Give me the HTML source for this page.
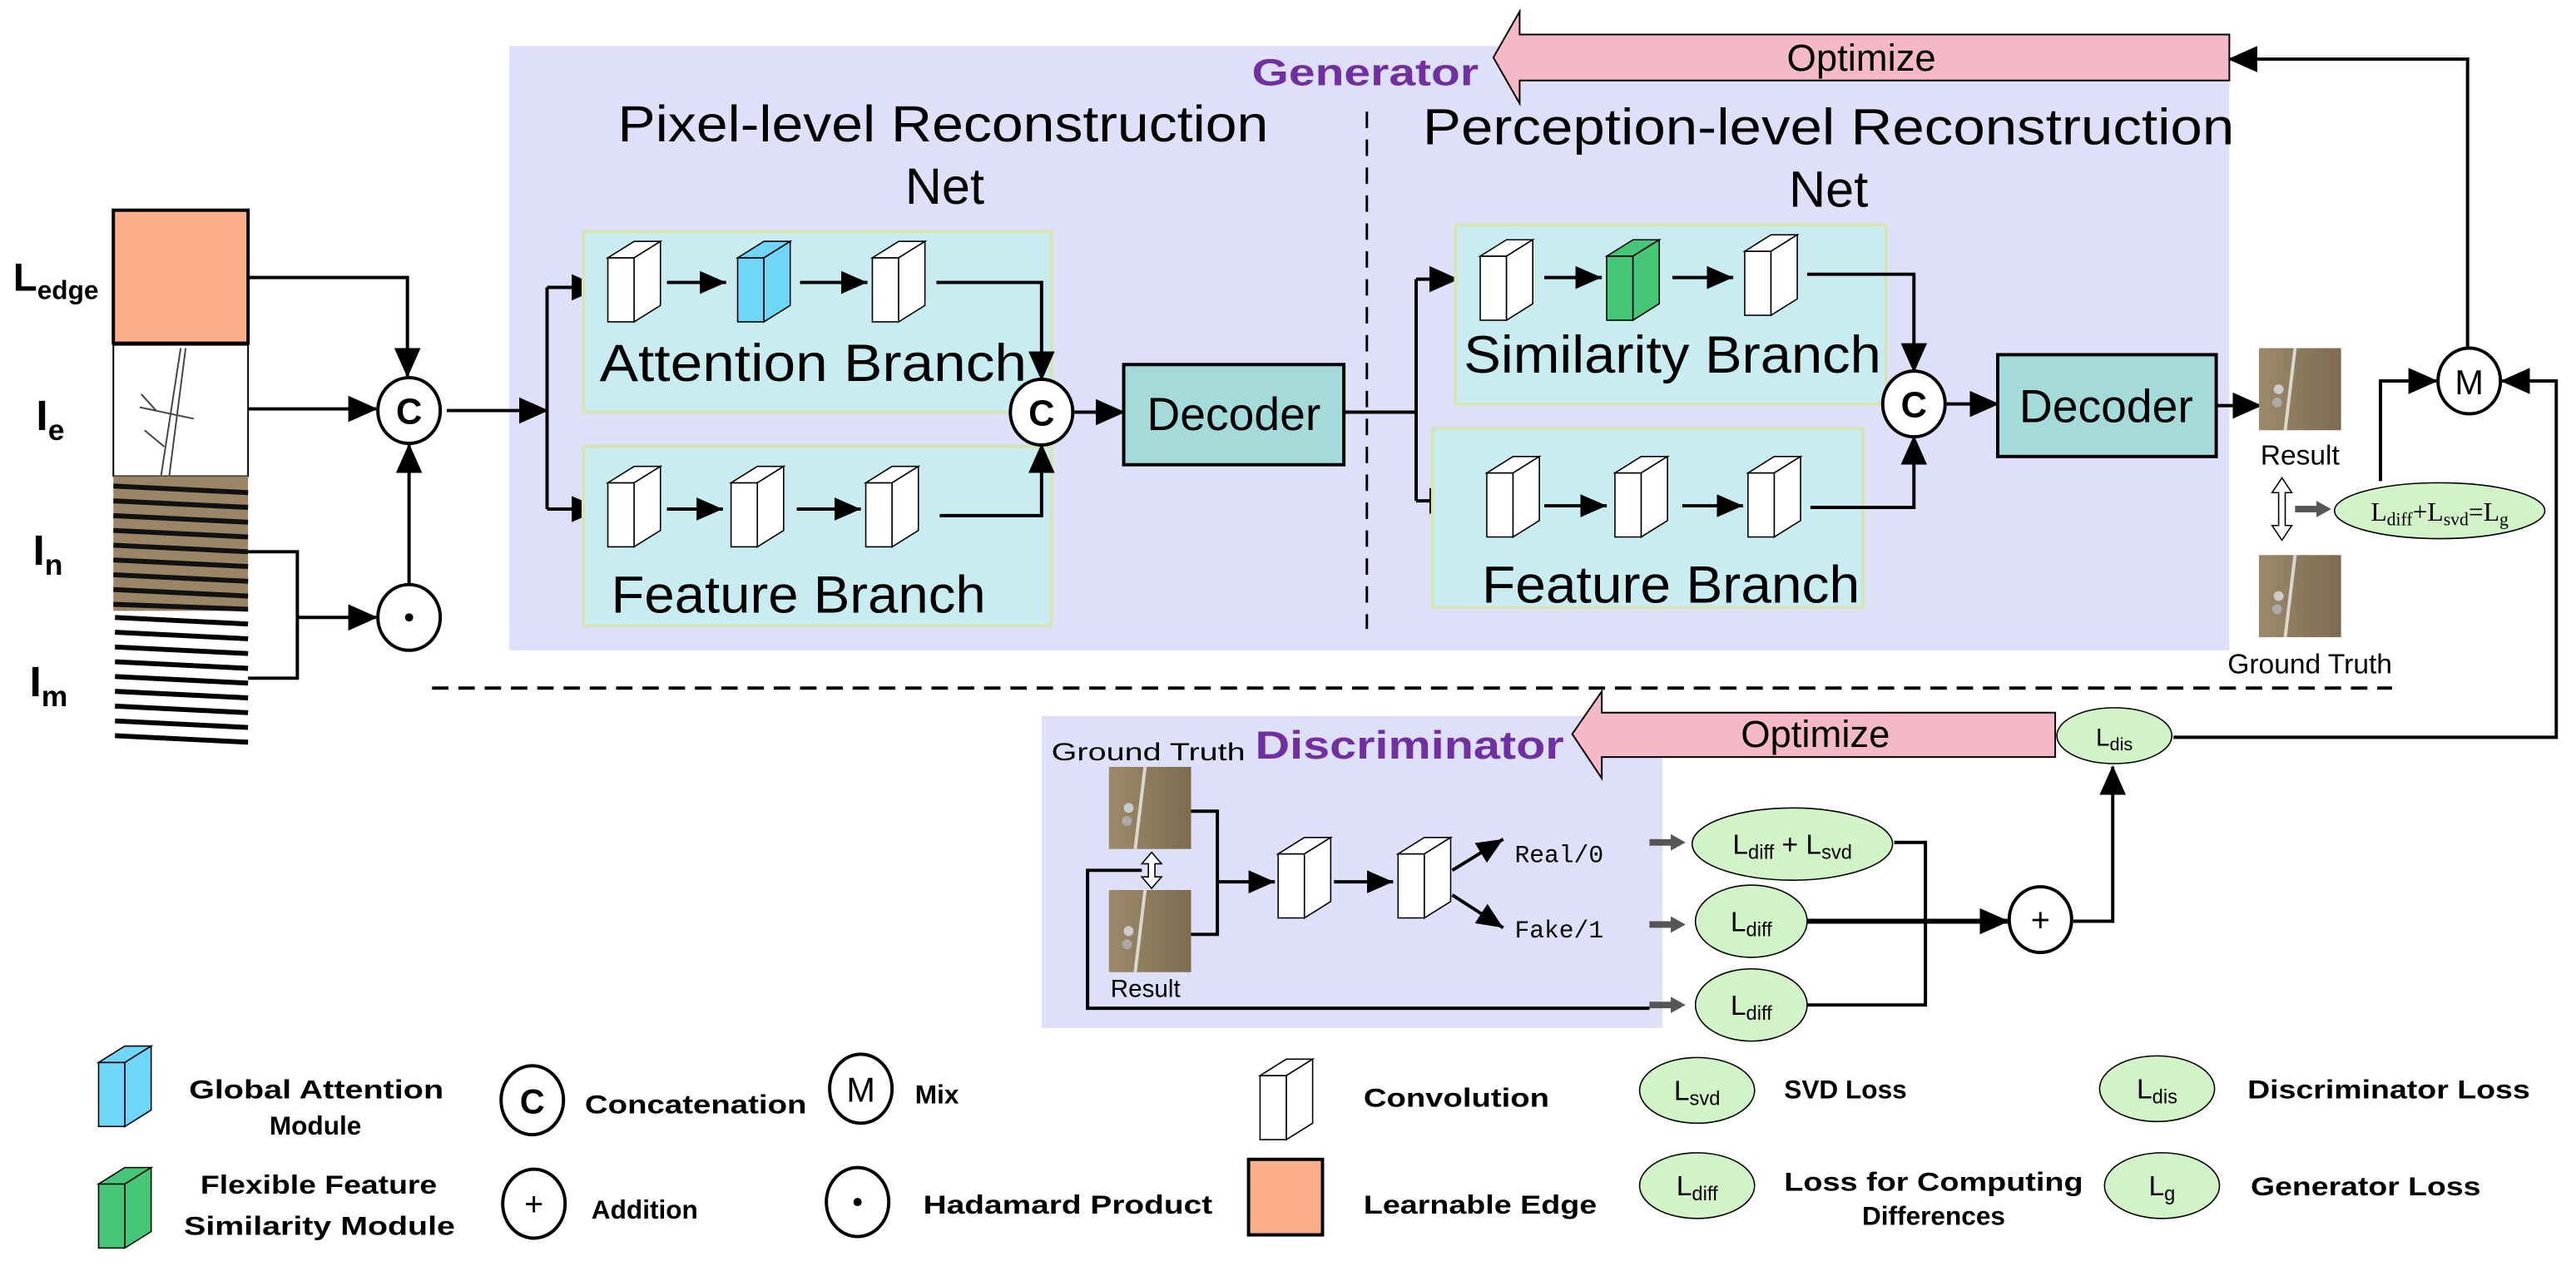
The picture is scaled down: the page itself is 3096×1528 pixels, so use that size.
<!DOCTYPE html>
<html><head><meta charset="utf-8"><style>
html,body{margin:0;padding:0;background:#fff;}
svg{display:block;}
text{font-family:"Liberation Sans",sans-serif;}
</style></head><body>
<svg width="3096" height="1528" viewBox="0 0 1568 774" preserveAspectRatio="none" xmlns="http://www.w3.org/2000/svg">
<defs>
<marker id="ah" markerUnits="userSpaceOnUse" markerWidth="20" markerHeight="20" refX="17" refY="9" orient="auto"><path d="M0,1 L18,9 L0,17 z" fill="#000"/></marker>
<marker id="ahs" markerUnits="userSpaceOnUse" markerWidth="18" markerHeight="18" refX="16" refY="8" orient="auto"><path d="M0,1 L16,8 L0,15 z" fill="#000"/></marker>
<g id="cube"><rect x="0" y="10" width="16" height="39" fill="#fff" stroke="#000" stroke-width="0.8"/><polygon points="0,10 16,10 32,0 16,0" fill="#fff" stroke="#000" stroke-width="0.8"/><polygon points="16,10 32,0 32,39 16,49" fill="#fff" stroke="#000" stroke-width="0.8"/></g>
<g id="cubeB"><rect x="0" y="10" width="16" height="39" fill="#6fd6f8" stroke="#000" stroke-width="0.8"/><polygon points="0,10 16,10 32,0 16,0" fill="#6fd6f8" stroke="#000" stroke-width="0.8"/><polygon points="16,10 32,0 32,39 16,49" fill="#6fd6f8" stroke="#000" stroke-width="0.8"/></g>
<g id="cubeG"><rect x="0" y="10" width="16" height="39" fill="#45c777" stroke="#000" stroke-width="0.8"/><polygon points="0,10 16,10 32,0 16,0" fill="#45c777" stroke="#000" stroke-width="0.8"/><polygon points="16,10 32,0 32,39 16,49" fill="#45c777" stroke="#000" stroke-width="0.8"/></g>
<linearGradient id="sat" x1="0" x2="1"><stop offset="0" stop-color="#9c8a6a"/><stop offset="1" stop-color="#7d6a50"/></linearGradient>
<g id="img"><rect x="0" y="0" width="50" height="50" fill="url(#sat)"/><line x1="22" y1="0" x2="16" y2="50" stroke="#d8d8d0" stroke-width="2"/><circle cx="12" cy="25" r="3" fill="#ccc"/><circle cx="11" cy="33" r="3" fill="#aaa"/></g>
</defs>

<!-- Generator box -->
<rect x="310" y="28" width="1047" height="368" fill="#dedff8"/>
<line x1="832" y1="68" x2="832" y2="383" stroke="#000" stroke-width="1.5" stroke-dasharray="10,7"/>
<text x="376" y="86" font-size="31" textLength="396" lengthAdjust="spacingAndGlyphs">Pixel-level Reconstruction</text>
<text x="575" y="124" font-size="31" text-anchor="middle">Net</text>
<text x="866" y="88" font-size="31" textLength="494" lengthAdjust="spacingAndGlyphs">Perception-level Reconstruction</text>
<text x="1113" y="126" font-size="31" text-anchor="middle">Net</text>
<text x="762" y="52" font-size="23" font-weight="bold" fill="#7030a0" textLength="138" lengthAdjust="spacingAndGlyphs">Generator</text>

<!-- Optimize top arrow -->
<polygon points="925,21 1357,21 1357,49 925,49 925,63 909,35 925,7" fill="#f4b8c6" stroke="#000" stroke-width="1"/>
<text x="1133" y="43" font-size="23" text-anchor="middle">Optimize</text>

<!-- Left inputs -->
<text x="8" y="177" font-size="24" font-weight="bold">L<tspan font-size="16" dy="5">edge</tspan></text>
<text x="22" y="262" font-size="26" font-weight="bold">I<tspan font-size="18" dy="6">e</tspan></text>
<text x="20" y="344" font-size="26" font-weight="bold">I<tspan font-size="18" dy="6">n</tspan></text>
<text x="18" y="424" font-size="26" font-weight="bold">I<tspan font-size="18" dy="6">m</tspan></text>
<rect x="69" y="128" width="82" height="81" fill="#fbae8a" stroke="#000" stroke-width="2"/>
<rect x="69" y="210" width="82" height="80" fill="#fff" stroke="#000" stroke-width="1"/>
<path d="M110,212 L98,290 M113,212 L103,290 M85,248 L118,255 M88,262 L100,272 M86,240 L95,250" stroke="#444" stroke-width="1" fill="none"/>
<rect x="69" y="290" width="82" height="82" fill="#9a8566"/>
<g stroke="#111" stroke-width="3">
<line x1="69" y1="296" x2="151" y2="300"/><line x1="69" y1="305" x2="151" y2="309"/><line x1="69" y1="314" x2="151" y2="318"/><line x1="69" y1="323" x2="151" y2="327"/><line x1="69" y1="332" x2="151" y2="336"/><line x1="69" y1="341" x2="151" y2="345"/><line x1="69" y1="350" x2="151" y2="354"/><line x1="69" y1="359" x2="151" y2="363"/><line x1="69" y1="368" x2="151" y2="371"/>
</g>
<g stroke="#000" stroke-width="3">
<line x1="70" y1="376" x2="151" y2="380"/><line x1="70" y1="385" x2="151" y2="389"/><line x1="70" y1="394" x2="151" y2="398"/><line x1="70" y1="403" x2="151" y2="407"/><line x1="70" y1="412" x2="151" y2="416"/><line x1="70" y1="421" x2="151" y2="425"/><line x1="70" y1="430" x2="151" y2="434"/><line x1="70" y1="439" x2="151" y2="443"/><line x1="70" y1="448" x2="151" y2="452"/>
</g>

<g stroke="#000" stroke-width="2" fill="none">
<polyline points="151,169 248,169 248,229" marker-end="url(#ah)"/>
<line x1="151" y1="249" x2="229" y2="249" marker-end="url(#ah)"/>
<polyline points="151,336 181,336 181,413 151,413"/>
<line x1="181" y1="376" x2="229" y2="376" marker-end="url(#ah)"/>
<line x1="249" y1="356" x2="249" y2="271" marker-end="url(#ah)"/>
<line x1="272" y1="250" x2="333" y2="250" marker-end="url(#ah)"/>
<polyline points="333,175 333,310"/>
<line x1="333" y1="175" x2="365" y2="175" marker-end="url(#ah)"/>
<line x1="333" y1="310" x2="365" y2="310" marker-end="url(#ah)"/>
</g>
<ellipse cx="249" cy="250" rx="19" ry="20" fill="#fff" stroke="#000" stroke-width="2"/>
<text x="249" y="258" font-size="22" font-weight="bold" text-anchor="middle">C</text>
<ellipse cx="249" cy="376" rx="19" ry="20" fill="#fff" stroke="#000" stroke-width="2"/>
<circle cx="249" cy="376" r="2.5" fill="#000"/>

<!-- Pixel branches -->
<rect x="355" y="141" width="285" height="110" fill="#c8ecf0" stroke="#d6e4b8" stroke-width="2"/>
<rect x="355" y="272" width="285" height="109" fill="#c8ecf0" stroke="#d6e4b8" stroke-width="2"/>
<use href="#cube" x="370" y="147"/><use href="#cubeB" x="449" y="147"/><use href="#cube" x="531" y="147"/>
<use href="#cube" x="370" y="284"/><use href="#cube" x="445" y="284"/><use href="#cube" x="527" y="284"/>
<g stroke="#000" stroke-width="2" fill="none">
<line x1="406" y1="172" x2="442" y2="172" marker-end="url(#ahs)"/>
<line x1="487" y1="172" x2="528" y2="172" marker-end="url(#ahs)"/>
<line x1="406" y1="310" x2="440" y2="310" marker-end="url(#ahs)"/>
<line x1="485" y1="310" x2="524" y2="310" marker-end="url(#ahs)"/>
<polyline points="570,172 634,172 634,231" marker-end="url(#ah)"/>
<polyline points="572,314 634,314 634,271" marker-end="url(#ah)"/>
<line x1="654" y1="251" x2="684" y2="251" marker-end="url(#ah)"/>
<polyline points="818,251 862,251"/>
<polyline points="862,170 862,305"/>
<line x1="862" y1="170" x2="887" y2="170" marker-end="url(#ah)"/>
<line x1="862" y1="305" x2="887" y2="305" marker-end="url(#ah)"/>
</g>
<text x="365" y="232" font-size="32" textLength="260" lengthAdjust="spacingAndGlyphs">Attention Branch</text>
<text x="372" y="373" font-size="32" textLength="228" lengthAdjust="spacingAndGlyphs">Feature Branch</text>
<ellipse cx="634" cy="251" rx="19" ry="20" fill="#fff" stroke="#000" stroke-width="2"/>
<text x="634" y="259" font-size="22" font-weight="bold" text-anchor="middle">C</text>
<rect x="684" y="222" width="134" height="61" fill="#a5dada" stroke="#000" stroke-width="2"/>
<text x="751" y="262" font-size="28" text-anchor="middle">Decoder</text>

<!-- Perception branches -->
<rect x="886" y="137" width="262" height="109" fill="#c8ecf0" stroke="#d6e4b8" stroke-width="2"/>
<rect x="872" y="261" width="262" height="109" fill="#c8ecf0" stroke="#d6e4b8" stroke-width="2"/>
<use href="#cube" x="901" y="146"/><use href="#cubeG" x="978" y="146"/><use href="#cube" x="1062" y="143"/>
<use href="#cube" x="905" y="278"/><use href="#cube" x="983" y="278"/><use href="#cube" x="1064" y="278"/>
<g stroke="#000" stroke-width="2" fill="none">
<line x1="940" y1="169" x2="975" y2="169" marker-end="url(#ahs)"/>
<line x1="1018" y1="169" x2="1055" y2="169" marker-end="url(#ahs)"/>
<line x1="940" y1="308" x2="978" y2="308" marker-end="url(#ahs)"/>
<line x1="1024" y1="308" x2="1061" y2="308" marker-end="url(#ahs)"/>
<polyline points="1100,167 1165,167 1165,226" marker-end="url(#ah)"/>
<polyline points="1102,309 1165,309 1165,266" marker-end="url(#ah)"/>
<line x1="1185" y1="246" x2="1216" y2="246" marker-end="url(#ah)"/>
<line x1="1349" y1="247" x2="1376" y2="247" marker-end="url(#ah)"/>
</g>
<text x="891" y="227" font-size="32" textLength="254" lengthAdjust="spacingAndGlyphs">Similarity Branch</text>
<text x="902" y="367" font-size="32" textLength="230" lengthAdjust="spacingAndGlyphs">Feature Branch</text>
<ellipse cx="1165" cy="246" rx="19" ry="20" fill="#fff" stroke="#000" stroke-width="2"/>
<text x="1165" y="254" font-size="22" font-weight="bold" text-anchor="middle">C</text>
<rect x="1216" y="216" width="133" height="62" fill="#a5dada" stroke="#000" stroke-width="2"/>
<text x="1282" y="257" font-size="28" text-anchor="middle">Decoder</text>

<!-- Result / GT -->
<use href="#img" x="1375" y="212"/>
<text x="1400" y="283" font-size="17" text-anchor="middle">Result</text>
<path d="M1389,291 L1383,300 L1387,300 L1387,320 L1383,320 L1389,329 L1395,320 L1391,320 L1391,300 L1395,300 z" fill="#fff" stroke="#000" stroke-width="0.8"/>
<rect x="1397" y="308" width="14" height="4" fill="#555"/><path d="M1410,305 L1419,310 L1410,315 z" fill="#555"/>
<ellipse cx="1485" cy="311" rx="64" ry="17" fill="#d2f2c8" stroke="#000" stroke-width="0.8"/>
<text x="1485" y="317" font-size="16" text-anchor="middle" style="font-family:'Liberation Serif',serif">L<tspan font-size="11" dy="3">diff</tspan><tspan dy="-3">+L</tspan><tspan font-size="11" dy="3">svd</tspan><tspan dy="-3">=L</tspan><tspan font-size="11" dy="3">g</tspan></text>
<use href="#img" x="1375" y="338"/>
<text x="1406" y="410" font-size="17" text-anchor="middle">Ground Truth</text>

<g stroke="#000" stroke-width="2" fill="none">
<polyline points="1449,293 1449,232 1483,232" marker-end="url(#ah)"/>
<polyline points="1502,213 1502,36 1357,36" marker-end="url(#ah)"/>
<polyline points="1323,449 1556,449 1556,232 1523,232" marker-end="url(#ah)"/>
</g>
<ellipse cx="1503" cy="232" rx="19" ry="20" fill="#fff" stroke="#000" stroke-width="2"/>
<text x="1503" y="240" font-size="21" text-anchor="middle">M</text>

<line x1="263" y1="419" x2="1456" y2="419" stroke="#000" stroke-width="2" stroke-dasharray="10,6"/>

<!-- Discriminator -->
<rect x="634" y="436" width="378" height="190" fill="#dedff8"/>
<polygon points="975,434 1251,434 1251,461 975,461 975,474 957,447 975,421" fill="#f4b8c6" stroke="#000" stroke-width="1"/>
<text x="1105" y="455" font-size="23" text-anchor="middle">Optimize</text>
<text x="640" y="463" font-size="15" textLength="118" lengthAdjust="spacingAndGlyphs">Ground Truth</text>
<text x="764" y="462" font-size="24" font-weight="bold" fill="#7030a0" textLength="188" lengthAdjust="spacingAndGlyphs">Discriminator</text>
<ellipse cx="1287" cy="448" rx="35" ry="17" fill="#d2f2c8" stroke="#000" stroke-width="0.8"/>
<text x="1287" y="454" font-size="15" text-anchor="middle">L<tspan font-size="11" dy="3">dis</tspan></text>

<use href="#img" x="675" y="467"/>
<use href="#img" x="675" y="542"/>
<text x="676" y="607" font-size="15">Result</text>
<path d="M701,519 L695,526 L699,526 L699,534 L695,534 L701,541 L707,534 L703,534 L703,526 L707,526 z" fill="#fff" stroke="#000" stroke-width="0.8"/>
<use href="#cube" x="778" y="510"/><use href="#cube" x="851" y="510"/>
<g stroke="#000" stroke-width="2" fill="none">
<polyline points="725,494 741,494 741,569 725,569"/>
<line x1="741" y1="537" x2="776" y2="537" marker-end="url(#ahs)"/>
<line x1="812" y1="537" x2="848" y2="537" marker-end="url(#ahs)"/>
<line x1="884" y1="530" x2="915" y2="511" marker-end="url(#ahs)"/>
<line x1="884" y1="545" x2="915" y2="565" marker-end="url(#ahs)"/>
<polyline points="695,530 662,530 662,614 1004,614"/>
<polyline points="1153,513 1172,513 1172,612 1100,612"/>
<line x1="1100" y1="561" x2="1222" y2="561" stroke-width="3" marker-end="url(#ah)"/>
<polyline points="1262,561 1286,561 1286,467" marker-end="url(#ah)"/>
</g>
<text x="922" y="525" font-size="15" style="font-family:'Liberation Mono',monospace">Real/0</text>
<text x="922" y="571" font-size="15" style="font-family:'Liberation Mono',monospace">Fake/1</text>
<g fill="#555">
<rect x="1004" y="511" width="14" height="4"/><path d="M1017,508 L1026,513 L1017,518 z"/>
<rect x="1004" y="561" width="14" height="4"/><path d="M1017,558 L1026,563 L1017,568 z"/>
<rect x="1004" y="610" width="14" height="4"/><path d="M1017,607 L1026,612 L1017,617 z"/>
</g>
<ellipse cx="1091" cy="514" rx="61" ry="22" fill="#d2f2c8" stroke="#000" stroke-width="0.8"/>
<text x="1091" y="520" font-size="17" text-anchor="middle">L<tspan font-size="12" dy="3">diff</tspan><tspan dy="-3"> + L</tspan><tspan font-size="12" dy="3">svd</tspan></text>
<ellipse cx="1066" cy="561" rx="34" ry="22" fill="#d2f2c8" stroke="#000" stroke-width="0.8"/>
<text x="1066" y="567" font-size="17" text-anchor="middle">L<tspan font-size="12" dy="3">diff</tspan></text>
<ellipse cx="1066" cy="612" rx="34" ry="22" fill="#d2f2c8" stroke="#000" stroke-width="0.8"/>
<text x="1066" y="618" font-size="17" text-anchor="middle">L<tspan font-size="12" dy="3">diff</tspan></text>
<ellipse cx="1242" cy="560" rx="19" ry="20" fill="#fff" stroke="#000" stroke-width="2"/>
<text x="1242" y="567" font-size="20" text-anchor="middle">+</text>

<!-- Legend -->
<use href="#cubeB" x="60" y="637"/>
<use href="#cubeG" x="60" y="711"/>
<text x="115" y="669" font-size="16" font-weight="bold" textLength="155" lengthAdjust="spacingAndGlyphs">Global Attention</text>
<text x="192" y="691" font-size="16" font-weight="bold" text-anchor="middle">Module</text>
<text x="122" y="727" font-size="16" font-weight="bold" textLength="144" lengthAdjust="spacingAndGlyphs">Flexible Feature</text>
<text x="112" y="752" font-size="16" font-weight="bold" textLength="165" lengthAdjust="spacingAndGlyphs">Similarity Module</text>
<ellipse cx="324" cy="670" rx="19" ry="21" fill="#fff" stroke="#000" stroke-width="2"/>
<text x="324" y="678" font-size="21" font-weight="bold" text-anchor="middle">C</text>
<text x="356" y="678" font-size="16" font-weight="bold" textLength="135" lengthAdjust="spacingAndGlyphs">Concatenation</text>
<ellipse cx="524" cy="663" rx="19" ry="21" fill="#fff" stroke="#000" stroke-width="2"/>
<text x="524" y="671" font-size="21" text-anchor="middle">M</text>
<text x="557" y="672" font-size="16" font-weight="bold">Mix</text>
<ellipse cx="325" cy="733" rx="19" ry="21" fill="#fff" stroke="#000" stroke-width="2"/>
<text x="325" y="740" font-size="20" text-anchor="middle">+</text>
<text x="360" y="742" font-size="16" font-weight="bold">Addition</text>
<ellipse cx="522" cy="732" rx="19" ry="21" fill="#fff" stroke="#000" stroke-width="2"/>
<circle cx="522" cy="732" r="2.5" fill="#000"/>
<text x="562" y="739" font-size="16" font-weight="bold" textLength="176" lengthAdjust="spacingAndGlyphs">Hadamard Product</text>
<use href="#cube" x="767" y="645"/>
<text x="830" y="674" font-size="16" font-weight="bold" textLength="113" lengthAdjust="spacingAndGlyphs">Convolution</text>
<rect x="760" y="706" width="45" height="46" fill="#fbae8a" stroke="#000" stroke-width="2"/>
<text x="830" y="739" font-size="16" font-weight="bold" textLength="142" lengthAdjust="spacingAndGlyphs">Learnable Edge</text>
<ellipse cx="1033" cy="664" rx="35" ry="20" fill="#d2f2c8" stroke="#000" stroke-width="0.8"/>
<text x="1033" y="670" font-size="17" text-anchor="middle">L<tspan font-size="12" dy="3">svd</tspan></text>
<text x="1086" y="669" font-size="16" font-weight="bold">SVD Loss</text>
<ellipse cx="1033" cy="722" rx="35" ry="20" fill="#d2f2c8" stroke="#000" stroke-width="0.8"/>
<text x="1033" y="728" font-size="17" text-anchor="middle">L<tspan font-size="12" dy="3">diff</tspan></text>
<text x="1086" y="725" font-size="16" font-weight="bold" textLength="182" lengthAdjust="spacingAndGlyphs">Loss for Computing</text>
<text x="1177" y="746" font-size="16" font-weight="bold" text-anchor="middle">Differences</text>
<ellipse cx="1313" cy="663" rx="35" ry="20" fill="#d2f2c8" stroke="#000" stroke-width="0.8"/>
<text x="1313" y="669" font-size="17" text-anchor="middle">L<tspan font-size="12" dy="3">dis</tspan></text>
<text x="1368" y="669" font-size="16" font-weight="bold" textLength="172" lengthAdjust="spacingAndGlyphs">Discriminator Loss</text>
<ellipse cx="1316" cy="722" rx="35" ry="20" fill="#d2f2c8" stroke="#000" stroke-width="0.8"/>
<text x="1316" y="728" font-size="17" text-anchor="middle">L<tspan font-size="12" dy="3">g</tspan></text>
<text x="1370" y="728" font-size="16" font-weight="bold" textLength="140" lengthAdjust="spacingAndGlyphs">Generator Loss</text>
</svg>
</body></html>
